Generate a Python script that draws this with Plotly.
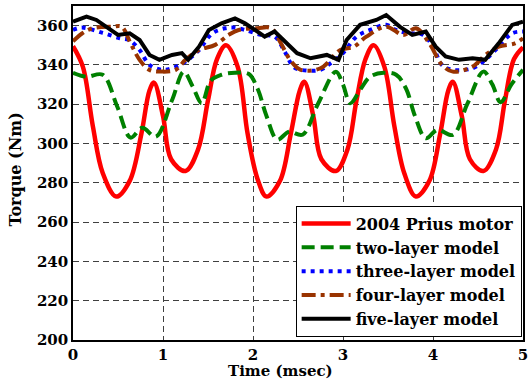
import plotly.graph_objects as go

# ---- data ----
red_t = [0, 0.11, 0.22, 0.33, 0.48, 0.63, 0.76, 0.85, 0.9, 1.0, 1.09, 1.25, 1.39, 1.5, 1.6, 1.7,
         1.83, 1.94, 2.05, 2.15, 2.3, 2.42, 2.52, 2.57, 2.67, 2.76, 2.92, 3.05, 3.15, 3.25, 3.34,
         3.46, 3.57, 3.68, 3.81, 3.96, 4.08, 4.17, 4.22, 4.32, 4.41, 4.56, 4.7, 4.8, 4.9, 5.0]
red_v = [349.5, 339, 309, 285, 273, 281, 305, 327, 331, 314, 292, 286, 297, 322, 343, 350,
         339, 305, 282, 273, 281, 305, 327, 331.5, 314, 292, 286, 297, 322, 343, 350,
         339, 309, 285, 273, 281, 305, 327, 331.5, 314, 292, 286, 297, 322, 343, 349]

green_t = [0, 0.15, 0.33, 0.49, 0.64, 0.77, 0.92, 1.1, 1.23, 1.33, 1.43, 1.53, 1.65, 1.8, 1.95,
           2.05, 2.15, 2.27, 2.4, 2.55, 2.72, 2.92, 3.0, 3.08, 3.2, 3.3, 3.45, 3.59, 3.7, 3.8,
           3.92, 4.05, 4.22, 4.38, 4.56, 4.66, 4.75, 4.87, 5.0]
green_v = [336, 334, 335, 319, 303, 308, 303.5, 322, 336.5, 329, 320.5, 332, 335, 336, 335.5,
           328, 314, 302, 306, 304.5, 320, 336.5, 330, 320.5, 328, 334, 336, 335, 328, 314,
           302.7, 307, 304.4, 320, 336.6, 330, 321, 330, 337.5]

blue_t = [0, 0.1, 0.33, 0.52, 0.63, 0.74, 0.85, 0.99, 1.1, 1.25, 1.4, 1.55, 1.69, 1.79, 1.91,
          2.09, 2.24, 2.35, 2.45, 2.53, 2.75, 2.86, 3.0, 3.15, 3.3, 3.48, 3.59, 3.74, 3.89, 4.0,
          4.1, 4.22, 4.44, 4.58, 4.73, 4.88, 5.0]
blue_v = [357.8, 359, 356.3, 353.6, 352.5, 347.6, 340, 337.5, 338.3, 341.7, 347.6, 356.2, 358.7,
          359, 357.8, 355.3, 354.4, 347, 339, 337.5, 337.5, 340.8, 346, 354.4, 357.8, 360.4,
          357.8, 356.1, 355.3, 349.3, 340, 337.5, 338.3, 342.6, 349.3, 356.1, 357]

brown_t = [0, 0.1, 0.22, 0.44, 0.54, 0.64, 0.74, 0.85, 0.99, 1.14, 1.25, 1.4, 1.58, 1.73, 1.84,
           2.05, 2.2, 2.31, 2.42, 2.53, 2.75, 2.97, 3.12, 3.26, 3.48, 3.67, 3.81, 3.96, 4.1,
           4.22, 4.44, 4.58, 4.73, 4.91, 5.0]
brown_v = [352, 356, 358.7, 359.5, 359.5, 351, 342.6, 337.5, 336.6, 337.5, 342.6, 347.6, 350.2,
           355.3, 357.8, 358.7, 358.7, 351, 342, 337.5, 338.3, 347.6, 349.3, 354.4, 359.5,
           355.3, 358.7, 351, 340, 336.6, 339.2, 345, 349.3, 351, 353.6]

black_t = [0, 0.15, 0.26, 0.41, 0.5, 0.63, 0.74, 0.85, 0.96, 1.1, 1.21, 1.28, 1.4, 1.51, 1.65,
           1.8, 1.91, 2.05, 2.13, 2.24, 2.38, 2.49, 2.64, 2.82, 2.95, 3.04, 3.19, 3.37, 3.48,
           3.63, 3.77, 3.92, 4.03, 4.14, 4.29, 4.44, 4.58, 4.73, 4.88, 5.0]
black_v = [362, 364.6, 362.9, 357.8, 355.3, 356.1, 352.7, 345.1, 342.6, 345.1, 346, 342.6,
           349.3, 357.8, 361.2, 363.7, 361.2, 357, 354.4, 357, 351, 346, 343.4, 345.1, 342.6,
           352.7, 360.4, 362.9, 365.4, 359.5, 355.3, 357, 349.3, 344.3, 342.6, 343.4, 342.6,
           351, 360.4, 362]

names = ["2004 Prius motor", "two-layer model", "three-layer model", "four-layer model", "five-layer model"]
x_ticks = [0, 1, 2, 3, 4, 5]
y_ticks = [200, 220, 240, 260, 280, 300, 320, 340, 360]

FONT = "DejaVu Serif"

fig = go.Figure()
series = [
    (red_t, red_v, dict(color="#FF0000", width=4.5, dash="solid", shape="spline")),
    (green_t, green_v, dict(color="#008000", width=4, dash="13px,6px", shape="spline")),
    (blue_t, blue_v, dict(color="#0000FF", width=4, dash="4px,5px", shape="spline")),
    (brown_t, brown_v, dict(color="#993300", width=4, dash="14px,5px,4px,5px", shape="spline")),
    (black_t, black_v, dict(color="#000000", width=4, dash="solid", shape="linear")),
]
for (t, v, ln), nm in zip(series, names):
    fig.add_trace(go.Scatter(x=t, y=v, mode="lines", name=nm, line=ln))

axis_common = dict(
    showline=True, linecolor="black", linewidth=1.5, mirror=True,
    showgrid=True, gridcolor="#404040", gridwidth=1, griddash="6px,4px",
    zeroline=False, ticks="",
    tickfont=dict(family=FONT, size=15, color="black", weight="bold"),
)
fig.update_xaxes(range=[0, 5], tickvals=x_ticks, ticklabeloverflow="allow", **axis_common)
fig.update_yaxes(range=[200, 370], tickvals=y_ticks, **axis_common)

fig.update_layout(
    width=530, height=381,
    margin=dict(l=73, r=2, t=6, b=41),
    plot_bgcolor="white", paper_bgcolor="white",
    showlegend=True,
    legend=dict(
        x=0.997, y=0.01, xanchor="right", yanchor="bottom",
        bgcolor="white", bordercolor="black", borderwidth=1,
        font=dict(family=FONT, size=16, color="black", weight="bold"),
        itemwidth=49,
    ),
    annotations=[
        dict(text="Time (msec)", x=0.4615, y=-0.093, xref="paper", yref="paper",
             xanchor="center", yanchor="middle", showarrow=False,
             font=dict(family=FONT, size=15, color="black", weight="bold")),
        dict(text="Torque (Nm)", x=-0.1275, y=0.509, xref="paper", yref="paper",
             xanchor="center", yanchor="middle", showarrow=False, textangle=-90,
             font=dict(family=FONT, size=16, color="black", weight="bold")),
    ],
)

fig.write_html("out.html")
